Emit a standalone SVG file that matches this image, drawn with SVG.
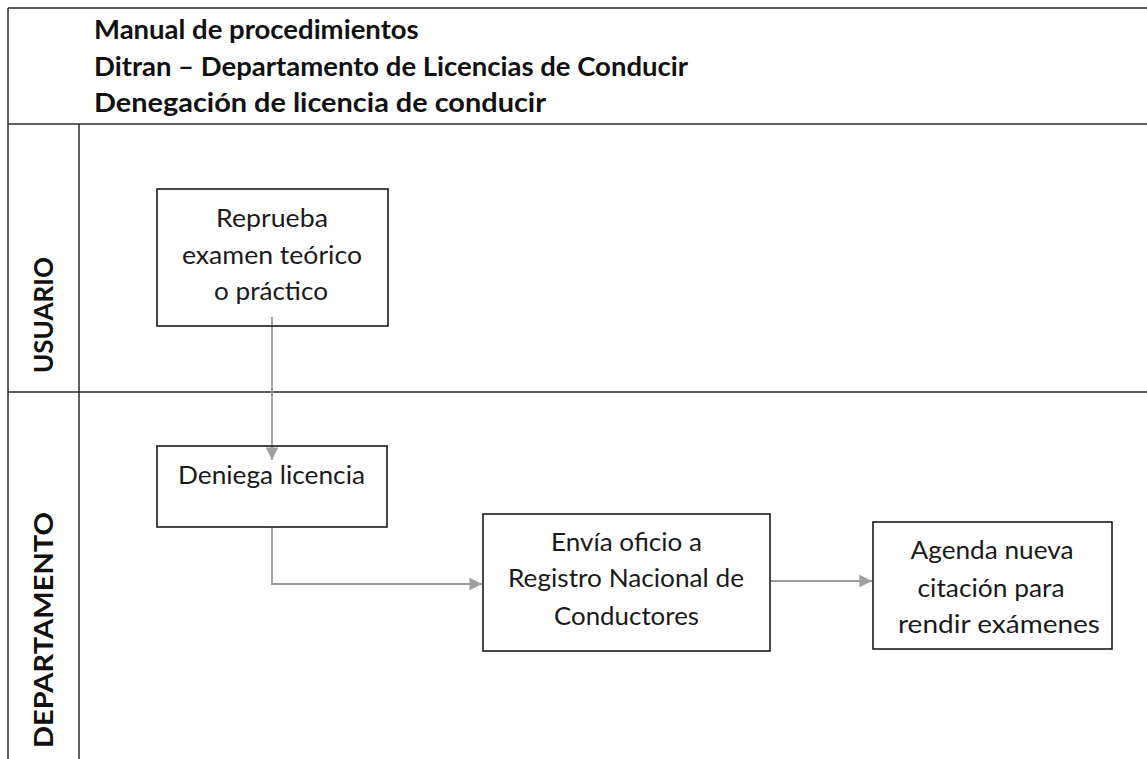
<svg xmlns="http://www.w3.org/2000/svg" width="1147" height="759" viewBox="0 0 1147 759">
<defs>
<style>
.frame{stroke:#2a2a2a;stroke-width:1.5;fill:none}
.box{fill:#fff;stroke:#1a1a1a;stroke-width:1.6}
.t{font-family:Lato,"Open Sans","Liberation Sans",sans-serif;font-size:25px;fill:#1a1a1a;text-anchor:middle}
.h{font-family:Lato,"Open Sans","Liberation Sans",sans-serif;font-size:27.5px;font-weight:bold;fill:#111}
.lane{font-family:Lato,"Open Sans","Liberation Sans",sans-serif;font-size:27px;font-weight:bold;fill:#111;text-anchor:middle}
.conn{stroke:#9a9a9a;stroke-width:1.8;fill:none}
</style>
<marker id="arr" viewBox="0 0 10 10" refX="10" refY="5" markerWidth="7" markerHeight="7" markerUnits="strokeWidth" orient="auto">
<path d="M0,0 L10,5 L0,10 z" fill="#a0a0a0"/>
</marker>
</defs>
<rect width="1147" height="759" fill="#fff"/>
<g id="frame">
<line class="frame" x1="8" y1="8" x2="1147" y2="8"/>
<line class="frame" x1="8" y1="8" x2="8" y2="759"/>
<line class="frame" x1="8" y1="124" x2="1147" y2="124"/>
<line class="frame" x1="8" y1="392" x2="1147" y2="392"/>
<line class="frame" x1="79" y1="124" x2="79" y2="759"/>
</g>
<g id="header">
<text class="h" x="94" y="39">Manual de procedimientos</text>
<text class="h" x="94" y="76">Ditran – Departamento de Licencias de Conducir</text>
<text class="h" x="94" y="112" textLength="452" lengthAdjust="spacingAndGlyphs">Denegación de licencia de conducir</text>
</g>
<g id="lane-usuario">
<text class="lane" transform="translate(53,315) rotate(-90)" textLength="116" lengthAdjust="spacingAndGlyphs">USUARIO</text>
</g>
<g id="lane-departamento">
<text class="lane" transform="translate(53,630) rotate(-90)" textLength="236" lengthAdjust="spacingAndGlyphs">DEPARTAMENTO</text>
</g>
<g id="connectors">
<path class="conn" d="M272,317 V460" marker-end="url(#arr)"/>
<path class="conn" d="M272,527 V584 H482" marker-end="url(#arr)"/>
<path class="conn" d="M770,581 H872" marker-end="url(#arr)"/>
</g>
<g id="n-reprueba">
<rect class="box" x="157" y="189" width="231" height="137" fill-opacity="0"/>
<text class="t" x="272" y="227" textLength="112" lengthAdjust="spacingAndGlyphs">Reprueba</text>
<text class="t" x="272" y="264" textLength="180" lengthAdjust="spacingAndGlyphs">examen teórico</text>
<text class="t" x="271" y="300" textLength="114" lengthAdjust="spacingAndGlyphs">o práctico</text>
</g>
<g id="n-deniega">
<rect class="box" x="157" y="446" width="230" height="81" style="fill:none"/>
<text class="t" x="271.5" y="484" textLength="187" lengthAdjust="spacingAndGlyphs">Deniega licencia</text>
</g>
<g id="n-envia">
<rect class="box" x="483" y="514" width="287" height="137"/>
<text class="t" x="626.5" y="551" textLength="151" lengthAdjust="spacingAndGlyphs">Envía oficio a</text>
<text class="t" x="626" y="587" textLength="236" lengthAdjust="spacingAndGlyphs">Registro Nacional de</text>
<text class="t" x="626.5" y="625" textLength="145" lengthAdjust="spacingAndGlyphs">Conductores</text>
</g>
<g id="n-agenda">
<rect class="box" x="873" y="522" width="239" height="127"/>
<text class="t" x="992" y="559" textLength="163" lengthAdjust="spacingAndGlyphs">Agenda nueva</text>
<text class="t" x="991" y="597" textLength="147" lengthAdjust="spacingAndGlyphs">citación para</text>
<text class="t" x="999" y="633" textLength="202" lengthAdjust="spacingAndGlyphs">rendir exámenes</text>
</g>
</svg>
